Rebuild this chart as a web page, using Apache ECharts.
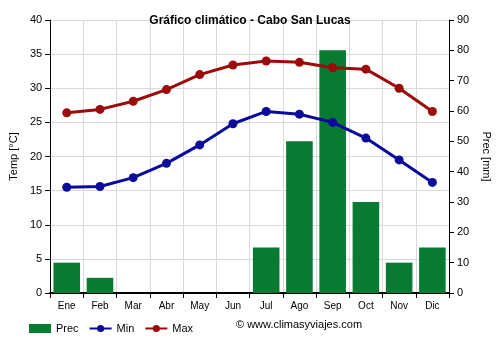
<!DOCTYPE html>
<html><head><meta charset="utf-8">
<script src="https://cdn.jsdelivr.net/npm/echarts@6/dist/echarts.min.js"></script>
<style>html,body{margin:0;padding:0;background:#fff}#c{width:500px;height:350px}</style>
</head><body><div id="c"></div>
<script>
const months = ['Ene','Feb','Mar','Abr','May','Jun','Jul','Ago','Sep','Oct','Nov','Dic'];
const prec = [10, 5, 0, 0, 0, 0, 15, 50, 80, 30, 10, 15];
const tmin = [15.5, 15.6, 16.9, 19.0, 21.7, 24.8, 26.6, 26.2, 25.0, 22.7, 19.5, 16.2];
const tmax = [26.4, 26.9, 28.1, 29.8, 32.0, 33.4, 34.0, 33.8, 33.0, 32.8, 30.0, 26.6];

const font = 'Liberation Sans, Arial, sans-serif';
const chart = echarts.init(document.getElementById('c'), null, {renderer:'canvas'});
chart.setOption({
  animation:false,
  backgroundColor:'#fff',
  title:{text:'Gráfico climático - Cabo San Lucas',left:'center',top:10,
    textStyle:{fontFamily:font,fontSize:12,fontWeight:'bold',color:'#000'}},
  grid:{left:49,right:48,top:20,bottom:57},
  legend:{left:24,top:318,itemGap:10,itemWidth:22,itemHeight:9,
    textStyle:{fontFamily:font,fontSize:11,color:'#000'},
    data:[{name:'Prec',icon:'rect'},{name:'Min'},{name:'Max'}]},
  graphic:[{type:'text',left:236,top:319,style:{text:'© www.climasyviajes.com',fontFamily:font,fontSize:11,fill:'#000'}}],
  xAxis:{type:'category',data:months,
    axisLine:{lineStyle:{color:'#000',width:2}},
    axisTick:{show:true,lineStyle:{color:'#000'},length:5},
    axisLabel:{fontFamily:font,fontSize:10,color:'#000',margin:8},
    splitLine:{show:true,interval:0,lineStyle:{color:'#d9d9d9'}}},
  yAxis:[
    {type:'value',min:0,max:40,interval:5,name:'Temp [°C]',nameLocation:'middle',nameGap:31,
      nameTextStyle:{fontFamily:font,fontSize:11,color:'#000'},
      axisLine:{show:true,lineStyle:{color:'#000'}},
      axisTick:{show:true,length:5,lineStyle:{color:'#000'}},
      axisLabel:{fontFamily:font,fontSize:11,color:'#000'},
      splitLine:{lineStyle:{color:'#d9d9d9'}}},
    {type:'value',min:0,max:90,interval:10,name:'Prec [mm]',nameLocation:'middle',nameGap:32,nameRotate:-90,
      nameTextStyle:{fontFamily:font,fontSize:11,color:'#000'},
      axisLine:{show:true,lineStyle:{color:'#000'}},
      axisTick:{show:true,length:5,lineStyle:{color:'#000'}},
      axisLabel:{fontFamily:font,fontSize:11,color:'#000'},
      splitLine:{show:false}}
  ],
  series:[
    {name:'Prec',type:'bar',yAxisIndex:1,data:prec,barCategoryGap:'20%',itemStyle:{color:'#087a32'}},
    {name:'Min',type:'line',data:tmin,symbol:'circle',symbolSize:9,lineStyle:{color:'#0a0a9c',width:3},itemStyle:{color:'#0a0a9c'}},
    {name:'Max',type:'line',data:tmax,symbol:'circle',symbolSize:9,lineStyle:{color:'#9c0a0a',width:3},itemStyle:{color:'#9c0a0a'}}
  ]
});
</script></body></html>
